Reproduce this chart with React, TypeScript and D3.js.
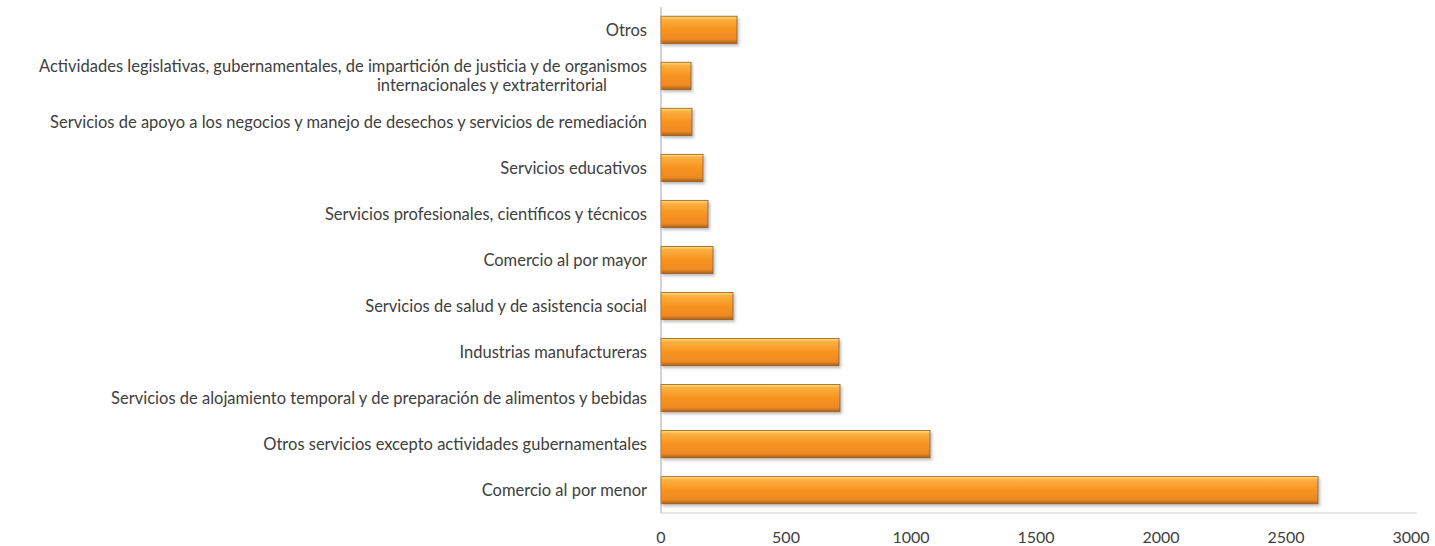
import { useRef, useEffect } from 'react';
import * as d3 from 'd3';

const categories = [
  'Otros',
  'Actividades legislativas, gubernamentales, de impartición de justicia y de organismos|internacionales y extraterritorial',
  'Servicios de apoyo a los negocios y manejo de desechos y servicios de remediación',
  'Servicios educativos',
  'Servicios profesionales, científicos y técnicos',
  'Comercio al por mayor',
  'Servicios de salud y de asistencia social',
  'Industrias manufactureras',
  'Servicios de alojamiento temporal y de preparación de alimentos y bebidas',
  'Otros servicios excepto actividades gubernamentales',
  'Comercio al por menor',
];

const values = [304, 120, 124, 168, 188, 208, 288, 712, 716, 1076, 2628];

const xTicks = [0, 500, 1000, 1500, 2000, 2500, 3000];

const W = 1435;
const H = 546;

export default function App() {
  const svgRef = useRef<SVGSVGElement>(null);

  useEffect(() => {
    document.body.style.margin = '0';
    if (!svgRef.current) return;
    const svg = d3.select(svgRef.current);
    svg.selectAll('*').remove();

    const left = 661;
    const right = 1411;
    const top = 7;
    const bottom = 513;
    const font = 'Lato, "Open Sans", sans-serif';
    const textColor = '#404040';

    const x = d3.scaleLinear().domain([0, 3000]).range([left, right]);
    const y = d3.scaleBand<string>().domain(categories).range([top, bottom]).paddingInner(0.41).paddingOuter(0.2);

    const defs = svg.append('defs');
    const grad = defs.append('linearGradient')
      .attr('id', 'barGrad')
      .attr('x1', 0).attr('y1', 0).attr('x2', 0).attr('y2', 1);
    grad.append('stop').attr('offset', '0%').attr('stop-color', '#fde27a');
    grad.append('stop').attr('offset', '12%').attr('stop-color', '#fbb040');
    grad.append('stop').attr('offset', '50%').attr('stop-color', '#f8931f');
    grad.append('stop').attr('offset', '85%').attr('stop-color', '#ee8a22');
    grad.append('stop').attr('offset', '100%').attr('stop-color', '#a9611c');

    const shadow = defs.append('filter').attr('id', 'shadow')
      .attr('x', '-5%').attr('y', '-20%').attr('width', '115%').attr('height', '160%');
    shadow.append('feDropShadow')
      .attr('dx', 1.5).attr('dy', 2).attr('stdDeviation', 1.5)
      .attr('flood-color', '#000').attr('flood-opacity', 0.28);

    // bars
    svg.append('g')
      .selectAll('rect')
      .data(categories)
      .join('rect')
      .attr('x', x(0))
      .attr('y', (d) => y(d)!)
      .attr('width', (d, i) => x(values[i]) - x(0))
      .attr('height', y.bandwidth())
      .attr('fill', 'url(#barGrad)')
      .attr('stroke', '#9a5a1c')
      .attr('stroke-width', 0.8)
      .attr('filter', 'url(#shadow)');

    // axes lines
    svg.append('line')
      .attr('x1', left).attr('x2', left).attr('y1', top).attr('y2', bottom)
      .attr('stroke', '#a6a6a6').attr('stroke-width', 1);
    svg.append('line')
      .attr('x1', left).attr('x2', right + 6).attr('y1', bottom).attr('y2', bottom)
      .attr('stroke', '#d0d0d0').attr('stroke-width', 1);

    // x tick labels
    svg.append('g')
      .selectAll('text')
      .data(xTicks)
      .join('text')
      .attr('x', (d) => x(d))
      .attr('y', bottom + 30)
      .attr('text-anchor', 'middle')
      .attr('font-family', font)
      .attr('font-size', 16)
      .attr('fill', textColor)
      .text((d) => d);

    // category labels
    const labels = svg.append('g');
    categories.forEach((c) => {
      const lines = c.split('|');
      const cy = y(c)! + y.bandwidth() / 2;
      const lh = 19;
      lines.forEach((ln, j) => {
        labels.append('text')
          .attr('x', j === 0 ? left - 14 : left - 54)
          .attr('y', cy + (j - (lines.length - 1) / 2) * lh)
          .attr('dy', '0.35em')
          .attr('text-anchor', 'end')
          .attr('font-family', font)
          .attr('font-size', 16.5)
          .attr('fill', textColor)
          .text(ln);
      });
    });
  }, []);

  return (
    <svg ref={svgRef} width={W} height={H} style={{ display: 'block', background: '#fff' }} />
  );
}
